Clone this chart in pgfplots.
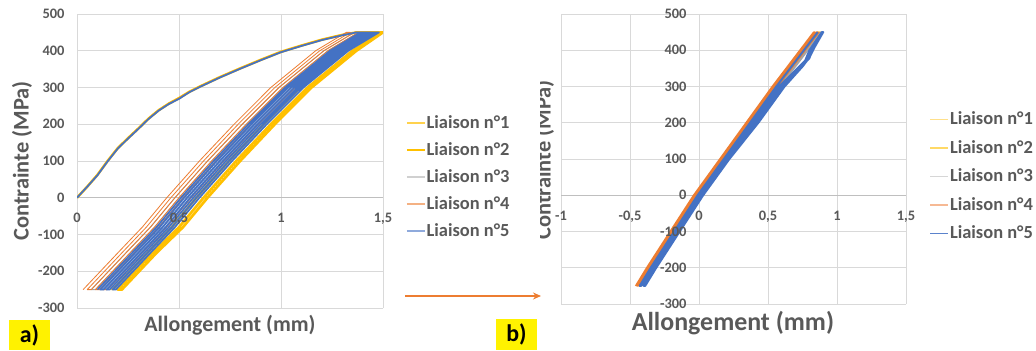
\documentclass[border=0pt]{standalone}
\usepackage{fontspec}
\setmainfont{Carlito}
\usepackage{pgfplots}
\pgfplotsset{compat=1.18}
\usetikzlibrary{arrows.meta}
\definecolor{c1}{HTML}{FFC000}
\definecolor{c2}{HTML}{F2B800}
\definecolor{c3}{HTML}{A5A5A5}
\definecolor{c4}{HTML}{ED7D31}
\definecolor{c5}{HTML}{4472C4}
\definecolor{la1}{HTML}{FFD24D}
\definecolor{la2}{HTML}{FFC000}
\definecolor{la3}{HTML}{D0D0D0}
\definecolor{la4}{HTML}{F4B183}
\definecolor{la5}{HTML}{8FAADC}
\definecolor{lb1}{HTML}{FFE08A}
\definecolor{lb2}{HTML}{FFD966}
\definecolor{lb3}{HTML}{D6D6D6}
\definecolor{lb4}{HTML}{F6B994}
\definecolor{lb5}{HTML}{5B83CC}
\definecolor{txt}{HTML}{595959}
\definecolor{grd}{HTML}{D9D9D9}
\definecolor{axl}{HTML}{BFBFBF}
\pgfplotsset{
  exc/.style={
    scale only axis,
    axis x line=middle, axis y line=middle,
    major tick length=0pt,
    ytick={-300,-200,-100,0,100,200,300,400,500},
    ymin=-300, ymax=500,
    hide obscured x ticks=false, hide obscured y ticks=false,
    /pgf/number format/assume math mode=true,
    /pgf/number format/use comma,
    ticklabel style={font=\bfseries\fontsize{14.5}{14.5}\selectfont, text=txt},
    xticklabel style={yshift=-12bp},
    yticklabel style={xshift=-9bp},
    every axis plot/.append style={line join=round, no markers},
    legend cell align=left,
    legend image code/.code={\draw[#1] (0bp,0bp) -- (18bp,0bp);},
  },
  excdata/.style={exc,
    x axis line style={-, draw=axl, line width=0.8bp},
    y axis line style={-, draw=grd, line width=0.8bp},
    grid=major, grid style={draw=grd, line width=0.8bp},
    xticklabels={}, yticklabels={},
  },
  exclab/.style={exc,
    axis line style={draw=none},
    grid=none,
  },
  pa/.style={at={(77bp,42bp)}, anchor=south west, width=306bp, height=294bp,
    xmin=0, xmax=1.5, xtick={0,0.5,1,1.5}},
  pb/.style={at={(561bp,46bp)}, anchor=south west, width=345bp, height=290bp,
    xmin=-1, xmax=1.5, xtick={-1,-0.5,0,0.5,1,1.5}},
}
\begin{document}
\begin{tikzpicture}[x=1bp,y=1bp]
\path[fill=white] (0,0) rectangle (1036,350);

% ---------------- panel a : data ----------------
\begin{axis}[excdata, pa]
\addplot[c1, line width=2.6bp] coordinates {
(0,0) (0.05,30) (0.1,62) (0.15,100) (0.2,135) (0.25,162) (0.3,188) (0.35,215) (0.4,238) (0.45,256) (0.5,271) (0.55,288) (0.6,302) (0.7,328) (0.8,352) (0.9,375) (1.0,397) (1.1,414) (1.2,430) (1.3,443) (1.37,450)
(1.50,450) (1.37,400) (1.15,300) (0.97,200) (0.80,100) (0.64,0) (0.52,-80) (0.39,-150) (0.22,-250)
(0.20,-250) (0.37,-150) (0.50,-80) (0.62,0) (0.78,100) (0.95,200) (1.13,300) (1.35,400) (1.49,450)
};
\addplot[c2, line width=1bp] coordinates {
(0,0) (0.05,31) (0.1,63) (0.15,101) (0.2,136) (0.25,163) (0.3,189) (0.35,216) (0.4,238) (0.45,257) (0.5,272) (0.55,288) (0.6,303) (0.7,329) (0.8,352) (0.9,376) (1.0,398) (1.1,415) (1.2,431) (1.3,444) (1.37,450)
(1.47,450) (1.32,400) (1.10,300) (0.92,200) (0.75,100) (0.59,0) (0.47,-80) (0.35,-150) (0.18,-250)
(0.17,-250) (0.34,-150) (0.46,-80) (0.58,0) (0.74,100) (0.91,200) (1.09,300) (1.31,400) (1.46,450)
};
\addplot[c3, line width=0.9bp] coordinates {
(0,0) (0.05,29) (0.1,60) (0.15,98) (0.2,133) (0.25,160) (0.3,186) (0.35,213) (0.4,236) (0.45,255) (0.5,270) (0.55,287) (0.6,301) (0.7,327) (0.8,351) (0.9,374) (1.0,396) (1.1,413) (1.2,429) (1.3,442) (1.37,450)
(1.42,450) (1.27,400) (1.05,300) (0.87,200) (0.70,100) (0.54,0) (0.42,-80) (0.30,-150) (0.13,-250)
(0.11,-250) (0.28,-150) (0.40,-80) (0.52,0) (0.68,100) (0.85,200) (1.03,300) (1.25,400) (1.40,450)
(1.38,450) (1.23,400) (1.01,300) (0.83,200) (0.66,100) (0.50,0) (0.38,-80) (0.26,-150) (0.09,-250)
(0.07,-250) (0.24,-150) (0.36,-80) (0.48,0) (0.64,100) (0.81,200) (0.99,300) (1.21,400) (1.36,450)
};
\addplot[c4, line width=0.8bp] coordinates {
(0,0) (0.05,30) (0.1,62) (0.15,100) (0.2,135) (0.25,162) (0.3,188) (0.35,215) (0.4,238) (0.45,256) (0.5,271) (0.55,288) (0.6,302) (0.7,328) (0.8,352) (0.9,375) (1.0,397) (1.1,414) (1.2,430) (1.3,443) (1.37,450)
(1.44,450) (1.29,400) (1.07,300) (0.89,200) (0.72,100) (0.56,0) (0.44,-80) (0.32,-150) (0.15,-250)
(0.13,-250) (0.30,-150) (0.42,-80) (0.54,0) (0.70,100) (0.87,200) (1.05,300) (1.27,400) (1.42,450)
(1.40,450) (1.25,400) (1.03,300) (0.85,200) (0.68,100) (0.52,0) (0.40,-80) (0.28,-150) (0.11,-250)
(0.09,-250) (0.26,-150) (0.38,-80) (0.50,0) (0.66,100) (0.83,200) (1.01,300) (1.23,400) (1.38,450)
(1.36,450) (1.21,400) (0.99,300) (0.81,200) (0.64,100) (0.48,0) (0.36,-80) (0.24,-150) (0.07,-250)
(0.05,-250) (0.22,-150) (0.34,-80) (0.46,0) (0.62,100) (0.79,200) (0.97,300) (1.19,400) (1.34,450)
(1.32,450) (1.17,400) (0.95,300) (0.77,200) (0.60,100) (0.44,0) (0.32,-80) (0.20,-150) (0.03,-250)
};
\addplot[c5, line width=1.7bp] coordinates {
(0,0) (0.05,30) (0.1,61) (0.15,99) (0.2,134) (0.25,161) (0.3,187) (0.35,214) (0.4,237) (0.45,255) (0.5,269) (0.55,287) (0.6,301) (0.7,327) (0.8,351) (0.9,374) (1.0,396) (1.1,413) (1.2,429) (1.3,442) (1.37,450)
(1.48,450) (1.33,400) (1.11,300) (0.93,200) (0.76,100) (0.60,0) (0.48,-80) (0.36,-150) (0.19,-250)
(0.175,-250) (0.345,-150) (0.465,-80) (0.585,0) (0.745,100) (0.915,200) (1.095,300) (1.315,400) (1.465,450)
(1.45,450) (1.30,400) (1.08,300) (0.90,200) (0.73,100) (0.57,0) (0.45,-80) (0.33,-150) (0.16,-250)
(0.145,-250) (0.315,-150) (0.435,-80) (0.555,0) (0.715,100) (0.885,200) (1.065,300) (1.285,400) (1.435,450)
(1.42,450) (1.27,400) (1.05,300) (0.87,200) (0.70,100) (0.54,0) (0.42,-80) (0.30,-150) (0.13,-250)
(0.115,-250) (0.285,-150) (0.405,-80) (0.525,0) (0.685,100) (0.855,200) (1.035,300) (1.255,400) (1.405,450)
(1.39,450) (1.24,400) (1.02,300) (0.84,200) (0.67,100) (0.51,0) (0.39,-80) (0.27,-150) (0.10,-250)
};
\end{axis}
% ---------------- panel a : tick labels and legend on top ----------------
\begin{axis}[exclab, pa,
  legend style={at={(1,0.4456)}, anchor=west, xshift=23bp, draw=none, fill=none,
    inner sep=0pt, font=\bfseries\fontsize{18.5}{18.5}\selectfont, text=txt,
    nodes={text height=11bp, text depth=0bp, inner sep=1bp}, row sep=14bp},
]
\addlegendimage{color=la1, line width=1.4bp}
\addlegendimage{color=la2, line width=1.4bp}
\addlegendimage{color=la3, line width=1.4bp}
\addlegendimage{color=la4, line width=1.4bp}
\addlegendimage{color=la5, line width=1.4bp}
\legend{Liaison n°1,Liaison n°2,Liaison n°3,Liaison n°4,Liaison n°5}
\end{axis}

% ---------------- panel b : data ----------------
\begin{axis}[excdata, pb]
\addplot[c1, line width=1bp] coordinates {
(-0.42,-250) (-0.34,-200) (-0.17,-100) (0.00,0) (0.19,100) (0.38,200) (0.57,300) (0.77,400) (0.87,450)
(0.86,450) (0.76,400) (0.56,300) (0.37,200) (0.18,100) (-0.01,0) (-0.18,-100) (-0.35,-200) (-0.43,-250)
};
\addplot[c2, line width=1bp] coordinates {
(-0.41,-250) (-0.33,-200) (-0.16,-100) (0.01,0) (0.20,100) (0.39,200) (0.58,300) (0.78,400) (0.88,450)
(0.87,450) (0.77,400) (0.57,300) (0.38,200) (0.19,100) (0.00,0) (-0.17,-100) (-0.34,-200) (-0.42,-250)
};
\addplot[c3, line width=1.2bp] coordinates {
(-0.40,-250) (-0.32,-200) (-0.15,-100) (0.02,0) (0.21,100) (0.40,200) (0.59,300) (0.79,400) (0.89,450)
(0.88,450) (0.78,400) (0.58,300) (0.39,200) (0.20,100) (0.01,0) (-0.16,-100) (-0.33,-200) (-0.41,-250)
};
\addplot[c4, line width=1.3bp] coordinates {
(-0.46,-250) (-0.38,-200) (-0.21,-100) (-0.04,0) (0.15,100) (0.34,200) (0.53,300) (0.73,400) (0.83,450)
(0.84,450) (0.74,400) (0.54,300) (0.35,200) (0.16,100) (-0.03,0) (-0.20,-100) (-0.37,-200) (-0.45,-250)
(-0.44,-250) (-0.36,-200) (-0.19,-100) (-0.02,0) (0.17,100) (0.36,200) (0.55,300) (0.75,400) (0.85,450)
(0.86,450) (0.76,400) (0.56,300) (0.37,200) (0.18,100) (-0.01,0) (-0.18,-100) (-0.35,-200) (-0.43,-250)
(-0.42,-250) (-0.34,-200) (-0.17,-100) (0.00,0) (0.19,100) (0.38,200) (0.57,300) (0.77,400) (0.87,450)
};
\addplot[c5, line width=2bp] coordinates {
(-0.41,-250) (-0.33,-200) (-0.16,-100) (0.01,0) (0.20,100) (0.40,200) (0.60,300) (0.72,350) (0.79,375) (0.81,400) (0.89,450)
(0.90,450) (0.84,410) (0.80,380) (0.75,355) (0.62,300) (0.43,200) (0.22,100) (0.03,0) (-0.14,-100) (-0.31,-200) (-0.39,-250)
(-0.40,-250) (-0.32,-200) (-0.15,-100) (0.02,0) (0.21,100) (0.41,200) (0.61,300) (0.73,352) (0.80,378) (0.82,400) (0.90,450)
(0.89,450) (0.80,400) (0.77,372) (0.70,345) (0.58,300) (0.39,200) (0.19,100) (0.00,0) (-0.17,-100) (-0.34,-200) (-0.42,-250)
(-0.43,-250) (-0.35,-200) (-0.18,-100) (-0.01,0) (0.18,100) (0.37,200) (0.56,300) (0.76,400) (0.86,450)
};
\end{axis}
% ---------------- panel b : tick labels and legend on top ----------------
\begin{axis}[exclab, pb,
  legend style={at={(1,0.44)}, anchor=west, xshift=23bp, draw=none, fill=none,
    inner sep=0pt, font=\bfseries\fontsize{18.5}{18.5}\selectfont, text=txt,
    nodes={text height=11bp, text depth=0bp, inner sep=1bp}, row sep=15.5bp},
]
\addlegendimage{color=lb1, line width=1.5bp}
\addlegendimage{color=lb2, line width=1.5bp}
\addlegendimage{color=lb3, line width=1.5bp}
\addlegendimage{color=lb4, line width=1.5bp}
\addlegendimage{color=lb5, line width=1.8bp}
\legend{Liaison n°1,Liaison n°2,Liaison n°3,Liaison n°4,Liaison n°5}
\end{axis}

% ---------------- labels ----------------
\node[rotate=90, font=\bfseries\fontsize{22.5}{22.5}\selectfont, text=txt] at (22,189) {Contrainte (MPa)};
\node[font=\bfseries\fontsize{22}{22}\selectfont, text=txt] at (230,25) {Allongement (mm)};
\begin{scope}
\clip (540,0) rectangle (600,350);
\node[rotate=90, font=\bfseries\fontsize{22.5}{22.5}\selectfont, text=txt] at (544,190) {Contrainte (MPa)};
\end{scope}
\node[font=\bfseries\fontsize{26}{26}\selectfont, text=txt] at (733,27) {Allongement (mm)};

\draw[c4, line width=1.8bp, -{Stealth[length=8bp,width=7bp]}] (405,54) -- (541,54);

\fill[yellow] (9,0) rectangle (50,30);
\node[font=\bfseries\fontsize{24}{24}\selectfont] at (29.5,15) {a)};
\fill[yellow] (496,0) rectangle (537,31);
\node[font=\bfseries\fontsize{24}{24}\selectfont] at (516.5,15.5) {b)};
\end{tikzpicture}
\end{document}
